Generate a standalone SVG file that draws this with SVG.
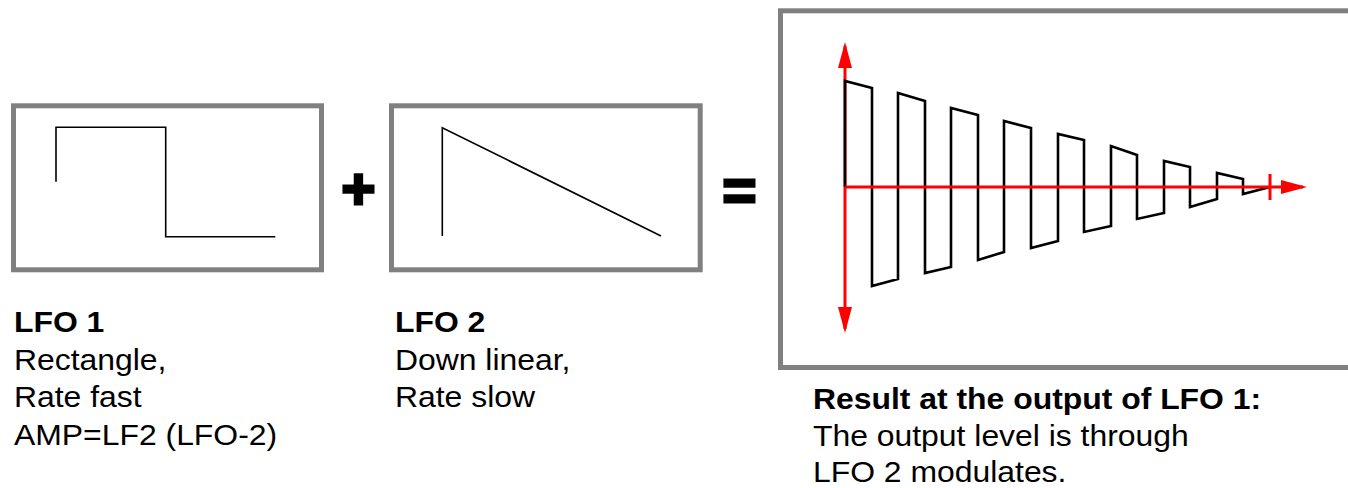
<svg xmlns="http://www.w3.org/2000/svg" width="1348" height="488" viewBox="0 0 1348 488">
  <style>
    .frame { fill: #ffffff; stroke: #808080; stroke-width: 5; }
    .wave { fill: none; stroke: #000000; stroke-width: 1.6; stroke-linejoin: miter; }
    .res { fill: none; stroke: #000000; stroke-width: 2.6; stroke-linejoin: miter; }
    .axis { stroke: #ff0000; stroke-width: 3; fill: none; }
    .t { font-family: "Liberation Sans", Arial, sans-serif; font-size: 29px; fill: #000000; }
    .b { font-weight: bold; }
    .op { font-family: "Liberation Sans", Arial, sans-serif; font-weight: bold; font-size: 58px; fill: #000000; stroke: #000000; stroke-width: 3; text-anchor: middle; }
  </style>
  <defs>
    <marker id="arr" viewBox="0 0 26 14" refX="22" refY="7" markerWidth="26" markerHeight="14" markerUnits="userSpaceOnUse" orient="auto-start-reverse">
      <path d="M0,0 L26,7 L0,14 z" fill="#ff0000"/>
    </marker>
  </defs>
  <rect width="1348" height="488" fill="#ffffff"/>

  <g id="lfo1">
    <rect class="frame" x="13.5" y="105.8" width="308" height="164"/>
    <polyline class="wave" points="56,181.7 56,127.3 165.7,127.3 165.7,236.7 275.3,236.7"/>
  </g>

  <g id="plus">
    <text class="op" x="358.5" y="208.5">+</text>
  </g>

  <g id="lfo2">
    <rect class="frame" x="391.5" y="105.8" width="308.7" height="164"/>
    <polyline class="wave" points="442.3,236 442.3,127.7 661,236"/>
  </g>

  <g id="equals">
    <text class="op" x="739.5" y="210">=</text>
  </g>

  <g id="result">
    <rect class="frame" x="780.5" y="10.8" width="590" height="356.7"/>
    <line class="axis" x1="845" y1="46" x2="845" y2="329" marker-start="url(#arr)" marker-end="url(#arr)"/>
    <polyline class="res" points="845,187 845,81 872,88 872,286 898,279 898,93 925,101 925,273 951,267 951,108 978,115 978,260 1004,252 1004,121 1031,128 1031,248 1058,241 1058,134 1084,140 1084,232 1111,226 1111,146 1137,155 1137,219 1164,213 1164,161 1190,167 1190,207 1217,199 1217,173 1243,179 1243,194 1270,187"/>
    <line class="axis" x1="845" y1="187" x2="1303" y2="187" marker-end="url(#arr)"/>
    <line class="axis" x1="1270" y1="174" x2="1270" y2="200"/>
  </g>

  <g id="label-lfo1" transform="translate(14,0) scale(1.1,1)">
    <text class="t b" x="0" y="332">LFO 1</text>
    <text class="t" x="0" y="370">Rectangle,</text>
    <text class="t" x="0" y="407.5">Rate fast</text>
    <text class="t" x="0" y="445">AMP=LF2 (LFO-2)</text>
  </g>

  <g id="label-lfo2" transform="translate(395,0) scale(1.1,1)">
    <text class="t b" x="0" y="332">LFO 2</text>
    <text class="t" x="0" y="370">Down linear,</text>
    <text class="t" x="0" y="407.5">Rate slow</text>
  </g>

  <g id="label-result" transform="translate(813,0) scale(1.1,1)">
    <text class="t b" x="0" y="409">Result at the output of LFO 1:</text>
    <text class="t" x="0" y="446">The output level is through</text>
    <text class="t" x="0" y="482">LFO 2 modulates.</text>
  </g>
</svg>
